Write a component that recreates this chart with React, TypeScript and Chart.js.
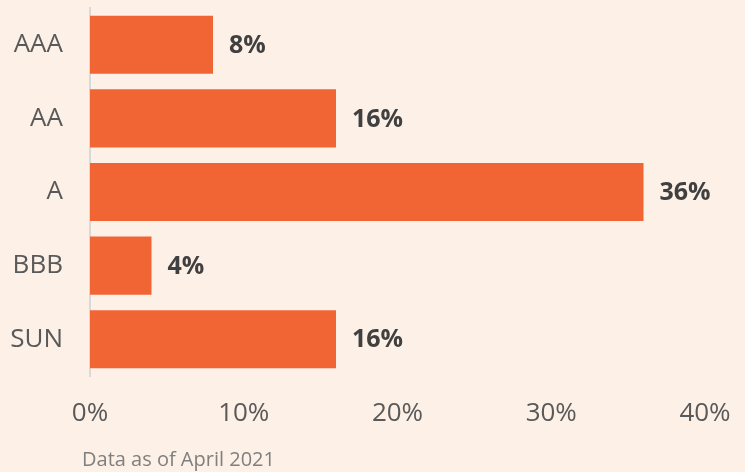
import React, { useEffect, useRef } from "react";
import { Chart, registerables } from "chart.js";

Chart.register(...registerables);

const categories = ["AAA", "AA", "A", "BBB", "SUN"];
const values = [8, 16, 36, 4, 16];
const xTickMax = 40;
const xTickStep = 10;
const footnote = "Data as of April 2021";

const BG = "#FDF0E7";
const BAR = "#F16534";
const FONT = "'Open Sans', sans-serif";

const labelPlugin = {
  id: "barLabels",
  afterDatasetsDraw(chart: any) {
    const ctx = chart.ctx;
    const meta = chart.getDatasetMeta(0);
    ctx.save();
    ctx.font = `bold 25px ${FONT}`;
    ctx.fillStyle = "#404040";
    ctx.textAlign = "left";
    ctx.textBaseline = "middle";
    meta.data.forEach((el: any, i: number) => {
      ctx.fillText(values[i] + "%", el.x + 16, el.y + 1);
    });
    ctx.restore();
  },
  afterDraw(chart: any) {
    const ctx = chart.ctx;
    ctx.save();
    ctx.font = `20px ${FONT}`;
    ctx.fillStyle = "#7F7F7F";
    ctx.textAlign = "left";
    ctx.textBaseline = "alphabetic";
    ctx.fillText(footnote, 82, 466);
    ctx.restore();
  },
};

export default function App() {
  const ref = useRef<HTMLCanvasElement>(null);
  useEffect(() => {
    const chart = new Chart(ref.current!, {
      type: "bar",
      data: {
        labels: categories,
        datasets: [
          {
            data: values,
            backgroundColor: BAR,
            borderWidth: 0,
            categoryPercentage: 1,
            barPercentage: 0.79,
          },
        ],
      },
      options: {
        indexAxis: "y",
        responsive: false,
        animation: false,
        layout: { padding: { top: 8, right: 40, left: 0, bottom: 0 } },
        plugins: {
          legend: { display: false },
          tooltip: { enabled: false },
        },
        scales: {
          x: {
            min: 0,
            max: xTickMax,
            grid: { display: false, drawTicks: false },
            border: { display: false },
            ticks: {
              stepSize: xTickStep,
              padding: 22,
              color: "#595959",
              font: { family: FONT, size: 26 },
              callback: (v: any) => v + "%",
            },
            afterFit: (s: any) => {
              s.height = 96;
              s.paddingLeft = 0;
              s.paddingRight = 0;
            },
          },
          y: {
            grid: { display: false, drawTicks: false },
            border: { display: true, color: "#D9D9D9", width: 2 },
            ticks: {
              padding: 27,
              color: "#595959",
              font: { family: FONT, size: 26 },
            },
            afterFit: (s: any) => {
              s.width = 90;
              s.paddingTop = 0;
              s.paddingBottom = 0;
            },
          },
        },
      },
      plugins: [labelPlugin],
    });
    return () => chart.destroy();
  }, []);
  return (
    <div style={{ position: "fixed", left: 0, top: 0, width: 745, height: 472, background: BG }}>
      <canvas ref={ref} width={745} height={472} style={{ display: "block" }} />
    </div>
  );
}
